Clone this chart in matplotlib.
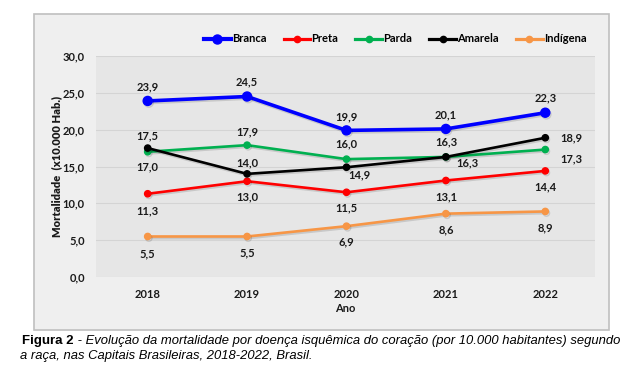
import matplotlib
matplotlib.use("Agg")
import matplotlib.pyplot as plt
import matplotlib.patheffects as pe
from matplotlib.patches import Rectangle
from matplotlib.lines import Line2D

# ---------------- data ----------------
years = ["2018", "2019", "2020", "2021", "2022"]
series_names = ["Branca", "Preta", "Parda", "Amarela", "Indígena"]
branca = [23.9, 24.5, 19.9, 20.1, 22.3]
preta = [11.3, 13.0, 11.5, 13.1, 14.4]
parda = [17.0, 17.9, 16.0, 16.3, 17.3]
amarela = [17.5, 14.0, 14.9, 16.3, 18.9]
indigena = [5.5, 5.5, 6.9, 8.6, 8.9]
yticks = [0, 5, 10, 15, 20, 25, 30]
ylabel = "Mortalidade  (x10.000 Hab.)"
xlabel = "Ano"
caption_bold = "Figura 2"
caption_rest1 = " - Evolução da mortalidade por doença isquêmica do coração (por 10.000 habitantes) segundo"
caption_line2 = "a raça, nas Capitais Brasileiras, 2018-2022, Brasil."

# ---------------- style ----------------
FONT = ["Lato", "DejaVu Sans"]
plt.rcParams["font.family"] = FONT
colors = ["#0000ff", "#ff0000", "#00b050", "#000000", "#f79646"]
lws = [2.6, 1.9, 1.9, 1.9, 1.9]
msizes = [6.5, 4.5, 4.5, 4.5, 4.5]
# label offsets in pixels (dx, dy) per series per point
offsets = [
    [(0, 14), (0, 15), (0, 14), (0, 14), (0, 15)],
    [(0, -17), (0, -16), (0, -16), (0, -16), (0, -16)],
    [(0, -15), (0, 13), (0, 15), (21, -6), (26, -9)],
    [(0, 12), (0, 11), (13, -8), (0, 15), (26, 0)],
    [(0, -17), (0, -16), (0, -16), (0, -16), (0, -16)],
]

W, H = 632, 371
fig = plt.figure(figsize=(W / 100, H / 100), dpi=100)
fig.patch.set_facecolor("white")

# outer frame of chart
frame = Rectangle((34 / W, 1 - 330 / H), (609 - 34) / W, (330 - 14) / H,
                  transform=fig.transFigure, facecolor="#efefef",
                  edgecolor="#bfbfbf", linewidth=1.2, zorder=0)
fig.patches.append(frame)

ax = fig.add_axes([96 / W, 1 - 277 / H, (595 - 96) / W, (277 - 56) / H])
ax.set_facecolor("#e6e6e6")
ax.set_zorder(1)

x = list(range(len(years)))
data = [branca, preta, parda, amarela, indigena]
for i, vals in enumerate(data):
    ax.plot(x, vals, color=colors[i], lw=lws[i], marker="o", ms=msizes[i],
            label=series_names[i], zorder=3,
            path_effects=[pe.SimpleLineShadow(offset=(0.8, -1.2), alpha=0.13),
                          pe.Normal()])
    for j, v in enumerate(vals):
        dx, dy = offsets[i][j]
        ax.annotate(f"{v:.1f}".replace(".", ","), (j, v), xytext=(dx, dy),
                    textcoords="offset pixels", ha="center", va="center",
                    fontsize=8, fontweight="bold", color="#1a1a1a", zorder=4)

ax.set_xlim(-0.52, 4.5)
ax.set_ylim(0, 30)
ax.set_yticks(yticks)
ax.set_yticklabels([f"{t:.1f}".replace(".", ",") for t in yticks])
ax.set_xticks(x)
ax.set_xticklabels(years)
ax.tick_params(length=0, labelsize=8, colors="#1a1a1a")
ax.tick_params(axis="y", pad=8)
ax.tick_params(axis="x", pad=9)
for lab in ax.get_xticklabels() + ax.get_yticklabels():
    lab.set_fontweight("bold")
ax.grid(axis="y", color="#d4d4d4", lw=0.8)
ax.set_axisbelow(True)
for s in ax.spines.values():
    s.set_visible(False)

fig.text(57 / W, 1 - 166 / H, ylabel, rotation=90, ha="center", va="center",
         fontsize=8, fontweight="heavy", color="#1a1a1a")
fig.text(345 / W, 1 - 309 / H, xlabel, ha="center", va="center",
         fontsize=8, fontweight="bold", color="#1a1a1a")

handles = [Line2D([], [], color=colors[i], lw=lws[i] + 0.4, marker="o",
                  ms=msizes[i]) for i in range(5)]
leg = ax.legend(handles, series_names, loc="center left",
                bbox_to_anchor=(204 / W, 1 - 39 / H), bbox_transform=fig.transFigure,
                ncol=5, frameon=False, handlelength=2.4, handletextpad=0.1,
                columnspacing=1.55, borderaxespad=0, borderpad=0,
                prop={"family": FONT, "weight": "bold", "size": 8})

# caption
cap_font = ["Liberation Sans", "DejaVu Sans"]
t1 = fig.text(22 / W, 1 - 341 / H, caption_bold, ha="left", va="center",
              fontsize=9.5, fontweight="bold", family=cap_font)
fig.canvas.draw()
r = fig.canvas.get_renderer()
bb = t1.get_window_extent(renderer=r)
fig.text(bb.x1 / W, 1 - 341 / H, caption_rest1, ha="left", va="center",
         fontsize=9.4, style="italic", family=cap_font)
fig.text(20 / W, 1 - 356 / H, caption_line2, ha="left", va="center",
         fontsize=9.4, style="italic", family=cap_font)

fig.savefig("out.png", dpi=100)
